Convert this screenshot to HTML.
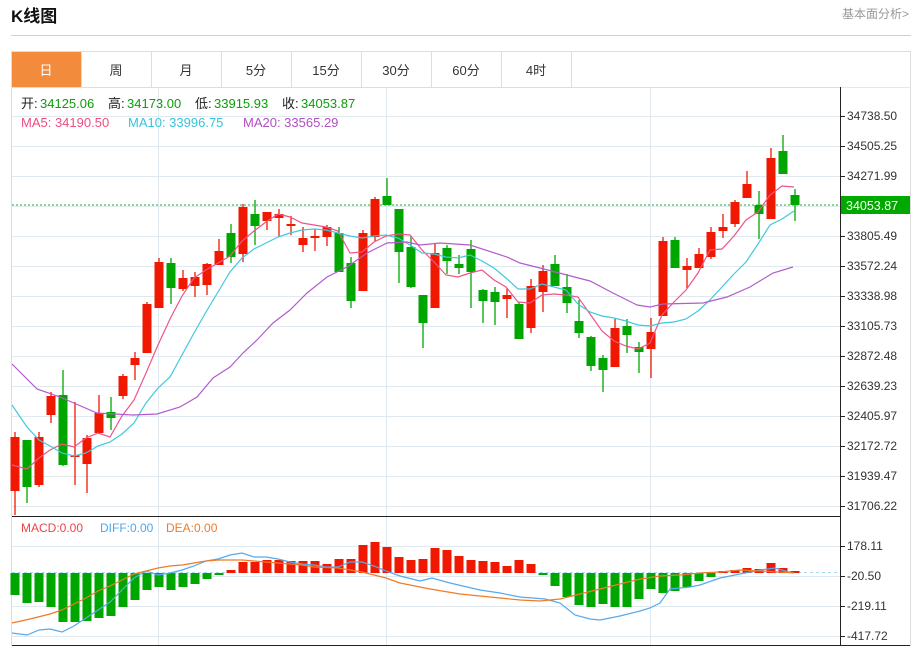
<!DOCTYPE html>
<html><head><meta charset="utf-8"><style>
body{margin:0;background:#fff;width:922px;height:648px;overflow:hidden;font-family:"Liberation Sans","Noto Sans CJK SC",sans-serif}
</style></head><body>
<svg id="s" width="922" height="648" xmlns="http://www.w3.org/2000/svg" style="position:absolute;left:0;top:0">
<text x="11" y="22" font-size="17" font-weight="bold" fill="#111" font-family="Liberation Sans,Noto Sans CJK SC,sans-serif">K线图</text>
<text x="909" y="18" font-size="12" fill="#999" text-anchor="end" font-family="Liberation Sans,Noto Sans CJK SC,sans-serif">基本面分析&gt;</text>
<line x1="11" y1="35.5" x2="911" y2="35.5" stroke="#d0d0d0"/>
<rect x="11.5" y="51.5" width="899" height="36" fill="none" stroke="#ddd"/>
<rect x="12" y="52" width="69" height="35" fill="#f28c3c"/>
<g font-size="13" fill="#333" text-anchor="middle" font-family="Liberation Sans,Noto Sans CJK SC,sans-serif">
<text x="46" y="75" fill="#fff">日</text><text x="116" y="75">周</text><text x="186" y="75">月</text><text x="256" y="75">5分</text><text x="326" y="75">15分</text><text x="396" y="75">30分</text><text x="466" y="75">60分</text><text x="536" y="75">4时</text>
</g>
<g stroke="#ddd"><line x1="81.5" y1="52" x2="81.5" y2="87"/><line x1="151.5" y1="52" x2="151.5" y2="87"/><line x1="221.5" y1="52" x2="221.5" y2="87"/><line x1="291.5" y1="52" x2="291.5" y2="87"/><line x1="361.5" y1="52" x2="361.5" y2="87"/><line x1="431.5" y1="52" x2="431.5" y2="87"/><line x1="501.5" y1="52" x2="501.5" y2="87"/><line x1="571.5" y1="52" x2="571.5" y2="87"/></g>
<line x1="11.5" y1="87" x2="11.5" y2="646" stroke="#ddd"/>
<line x1="910.5" y1="87" x2="910.5" y2="646" stroke="#ddd"/>
<g id="grid" stroke="#e1e9f0"></g>
<g id="plot"></g>
<line x1="840.5" y1="87" x2="840.5" y2="646" stroke="#222"/>
<line x1="12" y1="516.5" x2="840" y2="516.5" stroke="#222"/>
<line x1="12" y1="645.5" x2="910" y2="645.5" stroke="#222"/>
<g id="labels" font-size="12" fill="#333" font-family="Liberation Sans,sans-serif"></g>
<rect x="841" y="196" width="69" height="18" fill="#00a800"/>
<text x="846" y="210" font-size="12.5" fill="#fff" font-family="Liberation Sans,sans-serif">34053.87</text>
<g font-size="13" font-family="Liberation Sans,Noto Sans CJK SC,sans-serif">
<text x="21" y="108" fill="#222">开:</text><text x="40" y="108" fill="#0a9e0a">34125.06</text>
<text x="108" y="108" fill="#222">高:</text><text x="127" y="108" fill="#0a9e0a">34173.00</text>
<text x="195" y="108" fill="#222">低:</text><text x="214" y="108" fill="#0a9e0a">33915.93</text>
<text x="282" y="108" fill="#222">收:</text><text x="301" y="108" fill="#0a9e0a">34053.87</text>
<text x="21" y="127" fill="#ee4d82">MA5:  34190.50</text>
<text x="128" y="127" fill="#35c4dd">MA10:  33996.75</text>
<text x="243" y="127" fill="#b04fc0">MA20:  33565.29</text>
<text x="21" y="532" font-size="12" fill="#ee4444">MACD:0.00</text>
<text x="100" y="532" font-size="12" fill="#4aa8f0">DIFF:0.00</text>
<text x="166" y="532" font-size="12" fill="#f07a28">DEA:0.00</text>
</g>
</svg>
<script>
var NS="http://www.w3.org/2000/svg";
function el(p,t,a){var e=document.createElementNS(NS,t);for(var k in a)e.setAttribute(k,a[k]);p.appendChild(e);return e;}
var g=document.getElementById('grid'),P=document.getElementById('plot'),L=document.getElementById('labels');
for(var k=0;k<14;k++){var y=116+30*k;el(g,'line',{x1:12,y1:y+.5,x2:840,y2:y+.5});}
[546,576,606,636].forEach(function(y){el(g,'line',{x1:12,y1:y+.5,x2:840,y2:y+.5});});
[158,386,650].forEach(function(x){el(g,'line',{x1:x+.5,y1:88,x2:x+.5,y2:645});});
el(g,'line',{x1:840,y1:87.5,x2:910,y2:87.5});
var labs=["34738.50","34505.25","34271.99","33805.49","33572.24","33338.98","33105.73","32872.48","32639.23","32405.97","32172.72","31939.47","31706.22"];
var ys=[116,146,176,236,266,296,326,356,386,416,446,476,506];
labs.forEach(function(t,i){el(L,'line',{x1:840,y1:ys[i]+.5,x2:845,y2:ys[i]+.5,stroke:'#222'});var e=el(L,'text',{x:847,y:ys[i]+4});e.textContent=t;});
[["178.11",546],["-20.50",576],["-219.11",606],["-417.72",636]].forEach(function(a){el(L,'line',{x1:840,y1:a[1]+.5,x2:845,y2:a[1]+.5,stroke:'#222'});var e=el(L,'text',{x:847,y:a[1]+4});e.textContent=a[0];});
el(P,'line',{x1:12,y1:205,x2:840,y2:205,stroke:'#6cc66c','stroke-width':1.5,'stroke-dasharray':'2,2'});
el(P,'line',{x1:12,y1:572.5,x2:840,y2:572.5,stroke:'#a8d8ee','stroke-dasharray':'3,3'});
var C=[
['r',437,491,432,515],['g',440,487,440,503],['r',437,485,432,487],['r',396,415,392,423],['g',395,465,370,466],
['r',455,457,402,485],['r',438,464,435,493],['r',413,433,395,434],['g',412,418,397,430],['r',376,396,374,399],
['r',358,365,352,380],['r',304,353,302,353],['r',262,308,258,308],['g',263,288,258,304],['r',278,289,270,291],
['r',277,286,272,297],['r',264,285,263,295],['r',251,265,239,265],['g',233,257,224,263],['r',207,254,204,262],
['g',214,226,200,245],['r',212,221,212,230],['r',214,218,209,237],['r',224,226,216,235],['r',238,245,227,252],
['r',236,238,229,251],['r',227,237,225,246],['g',233,272,227,272],['g',263,301,257,308],['r',233,291,230,291],
['r',199,237,197,241],['g',196,205,178,205],['g',209,252,209,283],['g',247,287,236,288],['g',295,323,295,348],
['r',253,308,244,308],['g',248,261,245,274],['g',264,268,255,274],['g',249,272,240,308],['g',290,301,289,323],
['g',292,302,287,325],['r',295,299,288,318],['g',304,339,302,339],['r',286,328,279,333],['r',271,292,265,312],
['g',264,286,255,286],['g',287,303,274,313],['g',321,333,300,338],['g',337,366,336,371],['g',358,370,355,392],
['r',328,367,319,367],['g',326,335,319,353],['g',347,352,342,373],['r',332,349,318,378],['r',241,316,237,316],
['g',240,268,237,268],['r',266,270,258,288],['r',254,268,248,268],['r',232,257,227,259],['r',227,231,214,238],
['r',202,224,200,227],['r',184,198,171,198],['g',205,214,191,239],['r',158,219,148,219],['g',151,174,135,174],
['g',195,205,189,221]];
var col={r:'#f01800',g:'#00a600'};
C.forEach(function(c,i){var x=15+12*i,f=col[c[0]];
el(P,'line',{x1:x,y1:c[3],x2:x,y2:c[4],stroke:f,'stroke-width':1.3});
el(P,'rect',{x:x-4.5,y:c[1],width:9,height:Math.max(1.5,c[2]-c[1]),fill:f});});
function pl(pts,c){el(P,'polyline',{points:pts.map(function(p){return p.join(',')}).join(' '),fill:'none',stroke:c,'stroke-width':1.2});}
pl([[12,465],[27,469],[39,458],[50,450],[62,444],[74,447],[86,438],[98,433],[110,437],[122,416],[134,400],[146,373],[158,345],[170,319],[182,296],[194,278],[206,270],[218,263],[230,256],[242,241],[254,231],[266,222],[278,214],[290,217],[302,223],[314,225],[326,227],[338,231],[350,253],[362,252],[374,242],[386,236],[398,234],[410,235],[422,250],[434,262],[446,275],[458,277],[470,273],[482,270],[494,280],[506,287],[518,302],[530,303],[542,295],[554,294],[566,295],[578,297],[590,314],[602,331],[614,341],[626,346],[638,349],[650,343],[662,315],[674,302],[686,290],[698,273],[710,250],[722,249],[734,236],[746,220],[758,212],[770,195],[782,186],[794,187]],'#ee5588');
pl([[12,405],[27,427],[39,440],[50,446],[62,453],[74,456],[86,453],[98,446],[110,442],[122,434],[134,423],[146,403],[158,388],[170,377],[182,355],[194,333],[206,312],[218,292],[230,272],[242,258],[254,249],[266,243],[278,237],[290,233],[302,230],[314,229],[326,230],[338,233],[350,236],[362,238],[374,236],[386,235],[398,238],[410,245],[422,253],[434,254],[446,257],[458,258],[470,255],[482,261],[494,268],[506,278],[518,289],[530,289],[542,284],[554,287],[566,290],[578,304],[590,312],[602,316],[614,318],[626,321],[638,325],[650,326],[662,323],[674,322],[686,319],[698,311],[710,300],[722,287],[734,274],[746,262],[758,244],[770,225],[782,219],[794,211]],'#40c8df');
pl([[12,364],[37,389],[60,397],[97,413],[133,415],[157,414],[180,407],[197,397],[213,378],[230,367],[243,353],[257,340],[273,323],[290,310],[307,293],[327,277],[347,267],[367,253],[387,243],[407,242],[420,245],[440,243],[470,245],[507,257],[520,263],[540,268],[590,281],[613,293],[637,305],[650,307],[663,304],[703,303],[727,297],[750,287],[773,273],[793,267]],'#b35ccc');
var M=[595,603,602,607,622,622,621,618,616,607,600,590,587,590,587,584,579,575,570,562,562,560,560,561,561,561,564,559,559,545,542,547,557,560,559,548,550,556,560,561,562,566,560,564,575,586,597,605,607,604,607,607,599,589,593,591,587,581,577,571,570,568,569,563,568,571];
M.forEach(function(v,i){var x=15+12*i,z=573;
el(P,'rect',{x:x-4.5,y:Math.min(v,z),width:9,height:Math.max(1,Math.abs(v-z)),fill:v>z?'#00a600':'#f01800'});});
pl([[12,633],[27,635],[39,630],[50,629],[62,632],[74,626],[86,618],[98,610],[110,602],[122,590],[134,578],[146,571],[158,575],[170,573],[182,570],[194,566],[206,561],[218,559],[230,555],[242,553],[254,557],[266,557],[278,559],[290,562],[302,564],[314,565],[326,567],[338,567],[350,562],[362,562],[374,566],[386,571],[400,576],[420,581],[432,578],[450,583],[480,590],[500,593],[520,597],[545,599],[560,603],[575,615],[590,619],[600,620],[620,616],[640,611],[650,608],[660,603],[670,589],[690,587],[700,585],[720,578],[740,574],[760,570],[775,568],[785,571],[794,573]],'#55aaee');
pl([[12,623],[30,619],[50,614],[62,610],[74,604],[86,598],[98,591],[110,586],[122,580],[134,574],[146,571],[158,568],[170,566],[182,565],[194,563],[206,561],[218,560],[242,560],[254,561],[266,562],[278,563],[290,564],[302,565],[314,567],[338,568],[350,570],[362,572],[374,575],[386,578],[400,583],[430,589],[460,594],[490,597],[520,600],[540,601],[560,599],[580,594],[600,589],[620,584],[640,579],[660,576],[680,575],[700,573],[720,572],[740,570],[760,571],[780,572],[794,573]],'#f07a28');
</script>
</body></html>
